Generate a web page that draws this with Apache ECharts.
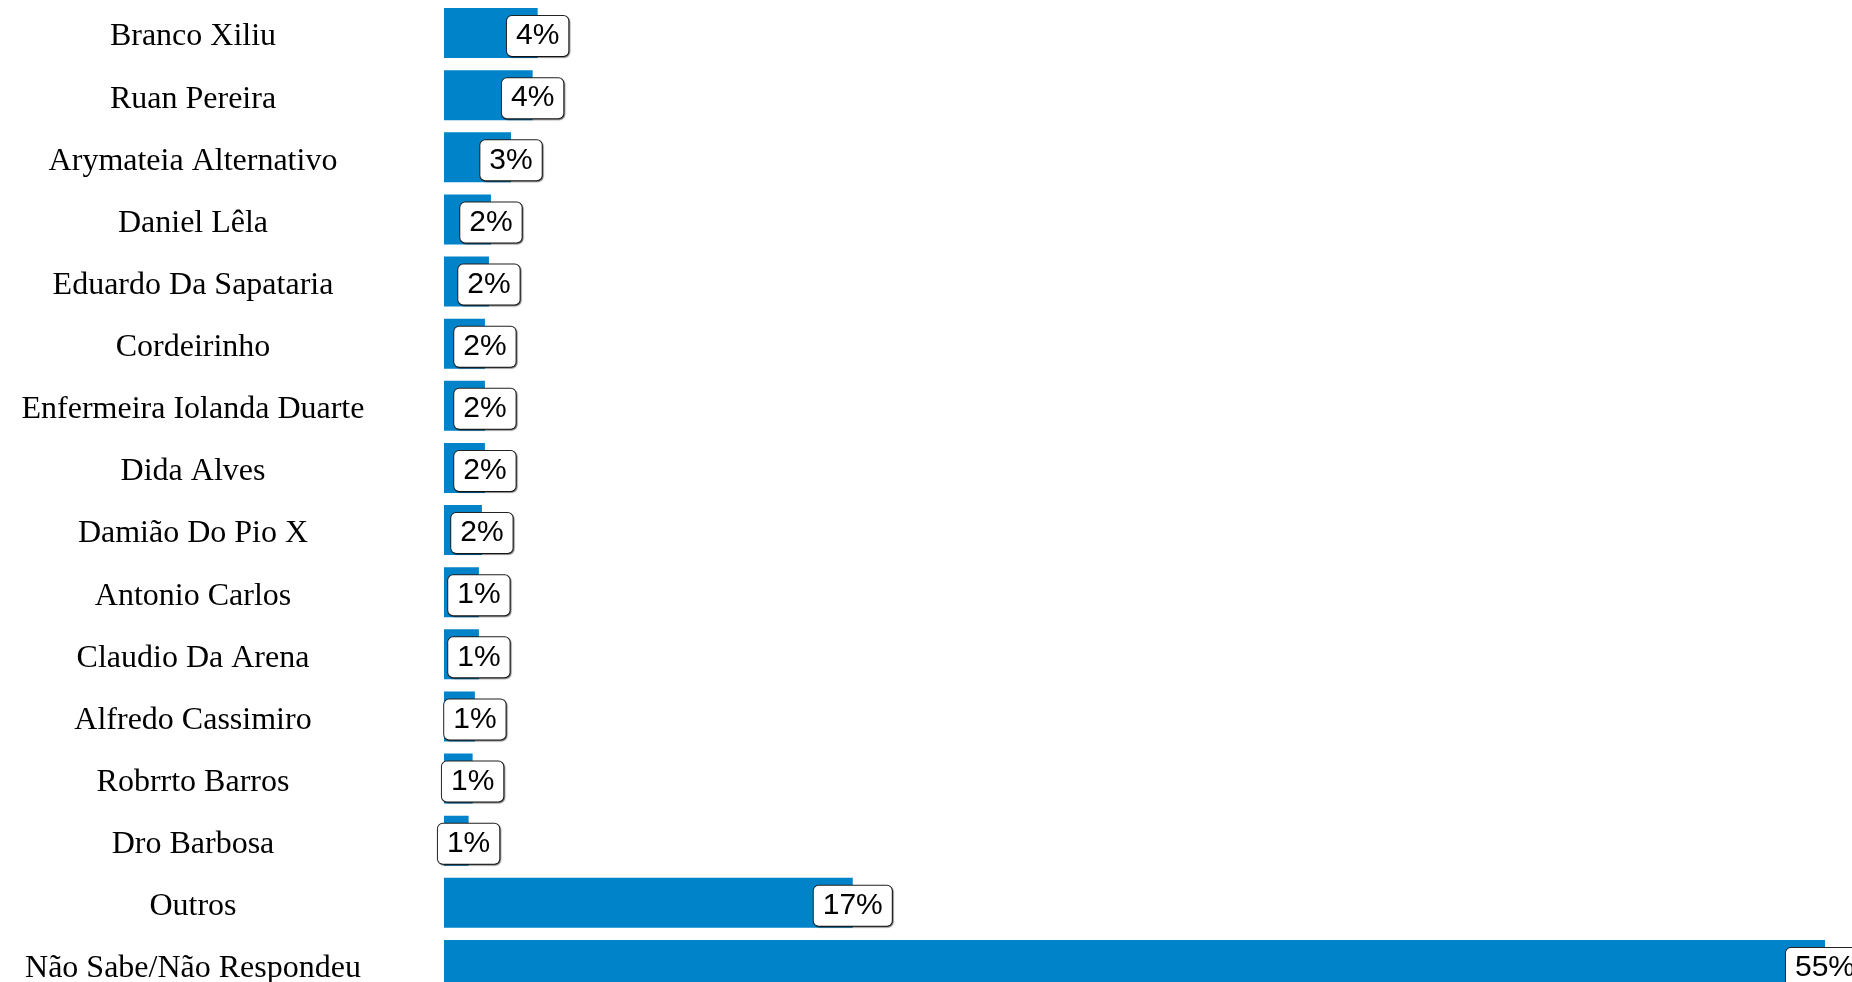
<!DOCTYPE html>
<html>
<head>
<meta charset="utf-8">
<script src="https://cdn.jsdelivr.net/npm/echarts@6/dist/echarts.min.js"></script>
<style>
  html, body { margin: 0; padding: 0; background: #fff; }
  #chart { width: 1852px; height: 982px; }
</style>
</head>
<body>
<div id="chart"></div>
<script>
// nomes, de cima para baixo
var names = [
  'Branco Xiliu', 'Ruan Pereira', 'Arymateia Alternativo', 'Daniel Lêla',
  'Eduardo Da Sapataria', 'Cordeirinho', 'Enfermeira Iolanda Duarte', 'Dida Alves',
  'Damião Do Pio X', 'Antonio Carlos', 'Claudio Da Arena', 'Alfredo Cassimiro',
  'Robrrto Barros', 'Dro Barbosa', 'Outros', 'Não Sabe/Não Respondeu'
];
var values = [3.73, 3.53, 2.67, 1.87, 1.79, 1.63, 1.63, 1.63, 1.51, 1.39, 1.39, 1.23, 1.14, 0.98, 16.28, 55];
// rótulos como aparecem no gráfico
var labels = ['4%', '4%', '3%', '2%', '2%', '2%', '2%', '2%', '2%', '1%', '1%', '1%', '1%', '1%', '17%', '55%'];

var chart = echarts.init(document.getElementById('chart'));

var option = {
  animation: false,
  backgroundColor: '#fff',
  grid: { left: 444, right: 27, top: 2, height: 994, outerBoundsMode: 'none', containLabel: false },
  xAxis: {
    type: 'value',
    min: 0,
    max: 55,
    show: false
  },
  yAxis: {
    type: 'category',
    inverse: true,
    data: names,
    axisLine: { show: false },
    axisTick: { show: false },
    splitLine: { show: false },
    axisLabel: {
      align: 'center',
      margin: 251,
      formatter: function (v) { return '{n|' + v + '}'; },
      rich: {
        n: {
          color: '#000',
          fontFamily: '"Liberation Serif", "Times New Roman", serif',
          fontSize: 32,
          lineHeight: 32,
          padding: [8, 0, 0, 0]
        }
      }
    }
  },
  series: [{
    type: 'bar',
    data: values,
    barWidth: 50,
    itemStyle: { color: '#0183C9' },
    label: {
      show: true,
      position: 'right',
      distance: 0,
      align: 'center',
      offset: [0, 3],
      formatter: function (p) { return labels[p.dataIndex]; },
      color: '#000',
      fontFamily: '"Liberation Sans", Arial, sans-serif',
      fontSize: 30,
      lineHeight: 30,
      backgroundColor: '#fff',
      borderColor: '#222',
      borderWidth: 1,
      borderRadius: 5,
      padding: [8, 9, 2, 9],
      shadowColor: 'rgba(0,0,0,0.45)',
      shadowOffsetX: 1,
      shadowOffsetY: 1,
      shadowBlur: 1
    }
  }]
};

chart.setOption(option);
</script>
</body>
</html>
